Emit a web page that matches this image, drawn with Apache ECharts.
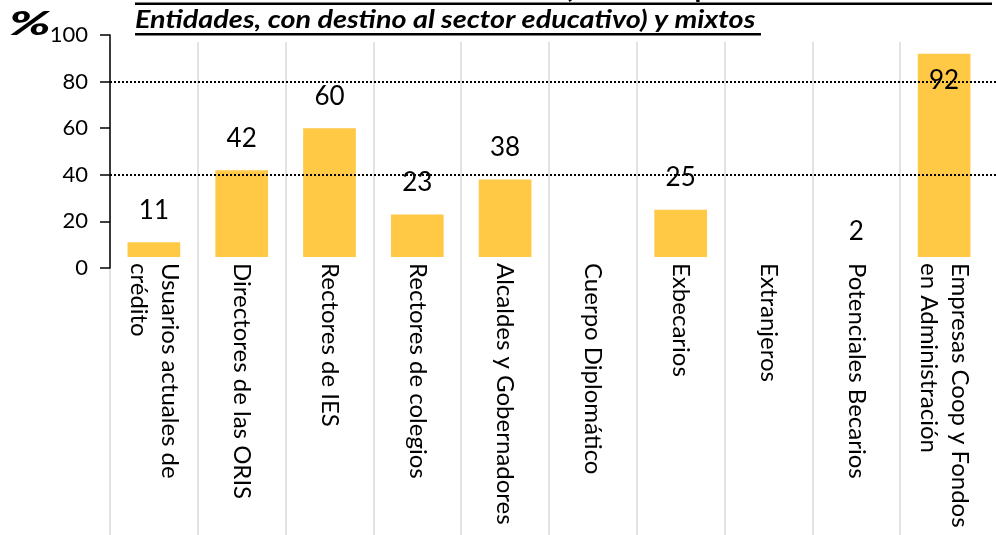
<!DOCTYPE html>
<html>
<head>
<meta charset="utf-8">
<script src="https://cdn.jsdelivr.net/npm/echarts@6/dist/echarts.min.js"></script>
<style>
  html, body {margin: 0; padding: 0; background: #fff;}
  #chart {width: 996px; height: 535px;}
</style>
</head>
<body>
<div id="chart"></div>
<script>
// categories as printed under the bars
const categories = [
  'Usuarios actuales de\ncrédito',
  'Directores de las ORIS',
  'Rectores de IES',
  'Rectores de colegios',
  'Alcaldes y Gobernadores',
  'Cuerpo Diplomático',
  'Exbecarios',
  'Extranjeros',
  'Potenciales Becarios',
  'Empresas Coop y Fondos\nen Administración'
]
// % per group (empty where there is no bar)
const values = [11, 42, 60, 23, 38, null, 25, null, 2, 92]
const yMin = 0
const yMax = 100
const yStep = 20
const refLines = [40, 80]

const titleLines = [
  'Públicos: Fondos en administración (Recursos que ICETEX administra de otras',
  'Entidades, con destino al sector educativo) y mixtos'
]

const BAR_COLOR = '#ffc845'
const BAR_BASE = 4.7 // bars sit a little above the zero line, like the original
const FONT = 'Lato'

const chart = echarts.init(document.getElementById('chart'))

const barData = []
values.forEach((v, i) => {
  if (v !== null) barData.push([i, v])
})

function renderBar(params, api) {
  const idx = api.value(0)
  const v = api.value(1)
  const base = api.coord([idx, BAR_BASE])
  const top = api.coord([idx, v])
  const w = api.size([1, 0])[0] * 0.6
  const children = []
  if (top[1] < base[1]) {
    children.push({
      type: 'rect',
      shape: {x: base[0] - w / 2, y: top[1], width: w, height: base[1] - top[1]},
      style: {fill: BAR_COLOR}
    })
  }
  // tall bars get their label inside, otherwise it would hit the title
  const inside = v > 85
  children.push({
    type: 'text',
    x: base[0],
    y: inside ? top[1] + 27 : top[1] - 32,
    style: {
      text: String(v),
      fontSize: 26,
      fontFamily: FONT,
      fill: '#000',
      align: 'center',
      verticalAlign: 'middle'
    }
  })
  return {type: 'group', children}
}

const titleStyle = {fontSize: 24, fontWeight: 'bold', fontStyle: 'italic', fontFamily: FONT, fill: '#000', verticalAlign: 'middle'}

const option = {
  animation: false,
  backgroundColor: '#fff',
  grid: [
    {left: 110, right: 8, top: 35, bottom: 267},
    {left: 110, right: 8, top: 42, bottom: 0},
    {left: 110, right: 0, top: 35, bottom: 267}
  ],
  xAxis: [
    {
      type: 'category',
      gridIndex: 0,
      data: categories,
      axisLine: {show: false},
      axisTick: {show: false},
      axisLabel: {
        interval: 0,
        rotate: -90,
        margin: -5,
        fontSize: 24,
        lineHeight: 31,
        fontFamily: FONT,
        color: '#000'
      }
    },
    {
      type: 'category',
      gridIndex: 1,
      data: categories,
      axisLine: {show: false},
      axisTick: {show: false},
      axisLabel: {show: false, interval: 0},
      splitLine: {
        show: true,
        interval: 0,
        showMaxLine: false,
        lineStyle: {color: '#e3e3e3', width: 2}
      }
    },
    {type: 'value', gridIndex: 2, show: false, min: 0, max: 1}
  ],
  yAxis: [
    {
      type: 'value',
      gridIndex: 0,
      min: yMin,
      max: yMax,
      interval: yStep,
      z: 5,
      axisLine: {show: true, lineStyle: {color: '#000', width: 1.5}},
      axisTick: {show: true, length: 10, lineStyle: {color: '#000', width: 1.5}},
      axisLabel: {fontSize: 22, margin: 22, color: '#000', fontFamily: FONT},
      splitLine: {show: false}
    },
    {type: 'value', gridIndex: 1, show: false},
    {type: 'value', gridIndex: 2, show: false, min: yMin, max: yMax}
  ],
  series: [
    {
      type: 'custom',
      xAxisIndex: 0,
      yAxisIndex: 0,
      renderItem: renderBar,
      data: barData,
      z: 3
    },
    {
      type: 'line',
      xAxisIndex: 2,
      yAxisIndex: 2,
      data: [[0, 0]],
      symbol: 'none',
      lineStyle: {opacity: 0},
      z: 4,
      markLine: {
        silent: true,
        symbol: 'none',
        label: {show: false},
        lineStyle: {color: '#000', type: [2, 2], width: 2, opacity: 1},
        data: refLines.map(v => ({yAxis: v}))
      }
    }
  ],
  graphic: [
    {
      type: 'text',
      x: 9,
      y: 25,
      scaleX: 1.7,
      style: {text: '%', fontSize: 32, fontWeight: 900, fontStyle: 'italic', fontFamily: FONT, fill: '#000', verticalAlign: 'middle'}
    },
    {
      type: 'text',
      x: 135,
      y: -10,
      scaleX: 1.2,
      style: Object.assign({text: titleLines[0]}, titleStyle)
    },
    {type: 'rect', shape: {x: 135, y: 2.5, width: 857, height: 2.5}, style: {fill: '#000'}},
    {
      type: 'text',
      x: 135,
      y: 20,
      scaleX: 1.2,
      style: Object.assign({text: titleLines[1]}, titleStyle)
    },
    {type: 'rect', shape: {x: 135, y: 33, width: 626, height: 2.5}, style: {fill: '#000'}}
  ]
}

chart.setOption(option)
</script>
</body>
</html>
